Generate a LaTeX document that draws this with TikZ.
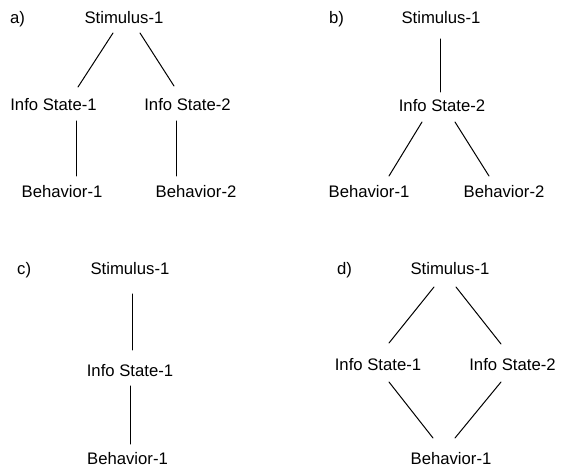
\documentclass[tikz,border=0pt]{standalone}
\usepackage{fontspec}
\setmainfont{Liberation Sans}
\begin{document}
\begin{tikzpicture}[x=1pt,y=-1pt,
  lbl/.style={inner sep=0pt,font=\fontsize{16.7}{18}\selectfont,text height=0.716em,text depth=0pt},
  tag/.style={lbl,anchor=west},
  link/.style={line width=1pt,line cap=round}]
\useasboundingbox (0,0) rectangle (566,468);

% a) two info states, two behaviours
\node[tag] (ta) at (10,20) {a)};
\node[lbl] (sa)  at (124,20)    {Stimulus-1};
\node[lbl] (ia1) at (53.5,107)  {Info State-1};
\node[lbl] (ia2) at (187.5,107) {Info State-2};
\node[lbl] (ba1) at (62,194)    {Behavior-1};
\node[lbl] (ba2) at (196,194)   {Behavior-2};
\draw[link] ([shift={(-11,13)}]sa.center) -- ([shift={(24.5,-20)}]ia1.center);
\draw[link] ([shift={(16,13)}]sa.center) -- ([shift={(-13.5,-21)}]ia2.center);
\draw[link] ([shift={(22.5,14)}]ia1.center) -- ([shift={(14,-18)}]ba1.center);
\draw[link] ([shift={(-11.5,14)}]ia2.center) -- ([shift={(-20,-18)}]ba2.center);

% b) one info state, two behaviours
\node[tag] (tb) at (329,20) {b)};
\node[lbl] (sb)  at (441,20)  {Stimulus-1};
\node[lbl] (ib)  at (442,108) {Info State-2};
\node[lbl] (bb1) at (369,194) {Behavior-1};
\node[lbl] (bb2) at (504,194) {Behavior-2};
\draw[link] ([shift={(-1,19)}]sb.center) -- ([shift={(-2,-16)}]ib.center);
\draw[link] ([shift={(-20,14)}]ib.center) -- ([shift={(20,-18)}]bb1.center);
\draw[link] ([shift={(13,14)}]ib.center) -- ([shift={(-15,-18)}]bb2.center);

% c) a single chain
\node[tag] (tc) at (17,271) {c)};
\node[lbl] (sc) at (130,271)   {Stimulus-1};
\node[lbl] (ic) at (130,373)   {Info State-1};
\node[lbl] (bc) at (127.5,460.5) {Behavior-1};
\draw[link] ([shift={(2,23)}]sc.center) -- ([shift={(2,-23)}]ic.center);
\draw[link] ([shift={(0,13)}]ic.center) -- ([shift={(2.5,-16.5)}]bc.center);

% d) two info states, one behaviour
\node[tag] (td) at (337,271) {d)};
\node[lbl] (sd)  at (450,271)   {Stimulus-1};
\node[lbl] (id1) at (378,366.5) {Info State-1};
\node[lbl] (id2) at (512.5,366.5) {Info State-2};
\node[lbl] (bd)  at (451,460.5) {Behavior-1};
\draw[link] ([shift={(-16,16)}]sd.center) -- ([shift={(11,-23.5)}]id1.center);
\draw[link] ([shift={(6,16)}]sd.center) -- ([shift={(-11.5,-22.5)}]id2.center);
\draw[link] ([shift={(11,15.5)}]id1.center) -- ([shift={(-18,-22.5)}]bd.center);
\draw[link] ([shift={(-11.5,15.5)}]id2.center) -- ([shift={(4,-22.5)}]bd.center);
\end{tikzpicture}
\end{document}
